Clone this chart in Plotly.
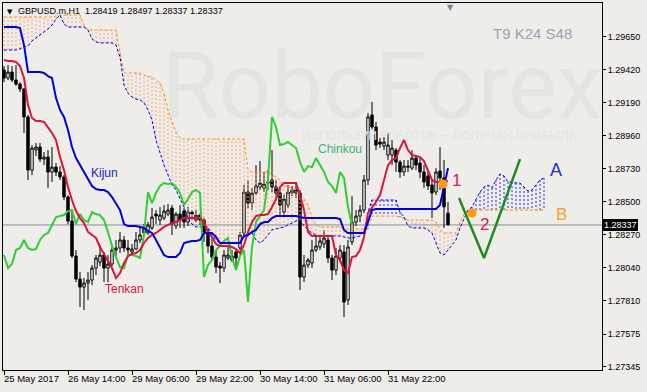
import plotly.graph_objects as go

# ---------------- data ----------------
tick_idx = [0, 16, 32, 48, 64, 80, 96]
tick_labels = ["25 May 2017", "26 May 14:00", "29 May 06:00", "29 May 22:00",
               "30 May 14:00", "31 May 06:00", "31 May 22:00"]
price_ticks = [1.27345, 1.27575, 1.27810, 1.28040, 1.28270, 1.28500,
               1.28730, 1.28960, 1.29190, 1.29420, 1.29650]

open_px = [
    1.29419, 1.29363, 1.29405, 1.29349, 1.29321, 1.29286, 1.29091, 1.28720, 1.28860, 1.28881,
    1.28797, 1.28811, 1.28706, 1.28741, 1.28706, 1.28672, 1.28532, 1.28364, 1.28120, 1.27959,
    1.27903, 1.27931, 1.27952, 1.28036, 1.28078, 1.28127, 1.28036, 1.28064, 1.28162, 1.28176,
    1.28232, 1.28176, 1.28148, 1.28169, 1.28232, 1.28309, 1.28281, 1.28316, 1.28413, 1.28371,
    1.28385, 1.28413, 1.28455, 1.28330, 1.28413, 1.28434, 1.28357, 1.28427, 1.28371, 1.28406,
    1.28371, 1.28288, 1.28190, 1.28113, 1.28050, 1.28036, 1.28106, 1.28092, 1.28148, 1.28176,
    1.28281, 1.28567, 1.28490, 1.28560, 1.28602, 1.28595, 1.28637, 1.28651, 1.28602, 1.28560,
    1.28427, 1.28476, 1.28560, 1.28581, 1.28560, 1.27973, 1.28057, 1.28071, 1.28162, 1.28183,
    1.28204, 1.28232, 1.28106, 1.28022, 1.28106, 1.28148, 1.27813, 1.28218, 1.28357, 1.28399,
    1.28441, 1.28651, 1.29105, 1.29021, 1.28916, 1.28888, 1.28825, 1.28825, 1.28860, 1.28776,
    1.28707, 1.28748, 1.28734, 1.28804, 1.28769, 1.28707, 1.28679, 1.28616, 1.28567, 1.28714,
    1.28665, 1.28419]
high_px = [
    1.29447, 1.29454, 1.29447, 1.29454, 1.29335, 1.29293, 1.29105, 1.28895, 1.28909, 1.28909,
    1.28846, 1.28860, 1.28881, 1.28769, 1.28748, 1.28686, 1.28546, 1.28441, 1.28162, 1.28008,
    1.27966, 1.28008, 1.28057, 1.28127, 1.28197, 1.28148, 1.28127, 1.28197, 1.28232, 1.28288,
    1.28260, 1.28232, 1.28204, 1.28288, 1.28323, 1.28344, 1.28358, 1.28455, 1.28441, 1.28462,
    1.28476, 1.28483, 1.28476, 1.28427, 1.28476, 1.28455, 1.28462, 1.28441, 1.28441, 1.28420,
    1.28385, 1.28316, 1.28246, 1.28162, 1.28078, 1.28162, 1.28197, 1.28162, 1.28162, 1.28288,
    1.28616, 1.28651, 1.28595, 1.28755, 1.28783, 1.28707, 1.28720, 1.28860, 1.28651, 1.28595,
    1.28546, 1.28616, 1.28609, 1.28637, 1.28581, 1.28127, 1.28106, 1.28232, 1.28253, 1.28267,
    1.28302, 1.28253, 1.28127, 1.28176, 1.28197, 1.28197, 1.28232, 1.28539, 1.28441, 1.28476,
    1.28686, 1.29119, 1.29196, 1.29056, 1.28944, 1.28951, 1.28979, 1.28930, 1.28874, 1.28790,
    1.28790, 1.28790, 1.28860, 1.28825, 1.28804, 1.28755, 1.28720, 1.28651, 1.28734, 1.28881,
    1.28790, 1.28497]
low_px = [
    1.29335, 1.29349, 1.29335, 1.29307, 1.29265, 1.28979, 1.28651, 1.28685, 1.28818, 1.28776,
    1.28755, 1.28595, 1.28637, 1.28679, 1.28651, 1.28511, 1.28343, 1.28106, 1.27938, 1.27764,
    1.27743, 1.27813, 1.27917, 1.27987, 1.28050, 1.27938, 1.27938, 1.28050, 1.28120, 1.28141,
    1.28148, 1.28134, 1.28127, 1.28162, 1.28211, 1.28260, 1.28267, 1.28302, 1.28344, 1.28337,
    1.28371, 1.28399, 1.28267, 1.28309, 1.28316, 1.28316, 1.28330, 1.28371, 1.28357, 1.28337,
    1.28218, 1.28141, 1.28092, 1.28001, 1.27931, 1.28008, 1.28092, 1.28078, 1.28036, 1.28162,
    1.28267, 1.28455, 1.28441, 1.28546, 1.28581, 1.28567, 1.28581, 1.28567, 1.28532, 1.28406,
    1.28406, 1.28455, 1.28539, 1.28525, 1.27882, 1.27938, 1.28036, 1.28036, 1.28148, 1.28162,
    1.28176, 1.28071, 1.27952, 1.27987, 1.28078, 1.27694, 1.27778, 1.28197, 1.28329, 1.28357,
    1.28420, 1.28616, 1.29000, 1.28860, 1.28874, 1.28860, 1.28790, 1.28755, 1.28707, 1.28665,
    1.28679, 1.28707, 1.28720, 1.28720, 1.28665, 1.28595, 1.28581, 1.28385, 1.28546, 1.28581,
    1.28316, 1.28337]
close_px = [
    1.29363, 1.29405, 1.29349, 1.29321, 1.29286, 1.29091, 1.28720, 1.28874, 1.28881, 1.28797,
    1.28811, 1.28706, 1.28741, 1.28706, 1.28672, 1.28532, 1.28364, 1.28120, 1.27959, 1.27903,
    1.27931, 1.27952, 1.28036, 1.28106, 1.28127, 1.28036, 1.28064, 1.28162, 1.28176, 1.28232,
    1.28176, 1.28162, 1.28169, 1.28232, 1.28267, 1.28281, 1.28337, 1.28392, 1.28399, 1.28406,
    1.28434, 1.28441, 1.28344, 1.28413, 1.28371, 1.28357, 1.28427, 1.28413, 1.28406, 1.28371,
    1.28288, 1.28190, 1.28113, 1.28043, 1.28036, 1.28127, 1.28127, 1.28120, 1.28106, 1.28267,
    1.28567, 1.28490, 1.28560, 1.28609, 1.28630, 1.28623, 1.28630, 1.28602, 1.28560, 1.28476,
    1.28518, 1.28567, 1.28581, 1.28560, 1.27973, 1.28057, 1.28092, 1.28162, 1.28190, 1.28225,
    1.28246, 1.28106, 1.28022, 1.28120, 1.28162, 1.27799, 1.28183, 1.28357, 1.28399, 1.28441,
    1.28651, 1.29091, 1.29021, 1.28895, 1.28902, 1.28916, 1.28895, 1.28874, 1.28776, 1.28707,
    1.28748, 1.28741, 1.28804, 1.28755, 1.28707, 1.28637, 1.28609, 1.28560, 1.28707, 1.28665,
    1.28462, 1.28337]

tenkan = [
    1.29489, 1.29482, 1.29482, 1.29475, 1.29447, 1.29363, 1.29175, 1.29084, 1.29063, 1.29063,
    1.29056, 1.29021, 1.28979, 1.28930, 1.28811, 1.28720, 1.28602, 1.28511, 1.28434, 1.28385,
    1.28350, 1.28288, 1.28267, 1.28246, 1.28183, 1.28134, 1.28092, 1.28036, 1.27966, 1.28001,
    1.28071, 1.28120, 1.28134, 1.28141, 1.28162, 1.28211, 1.28246, 1.28267, 1.28281, 1.28302,
    1.28323, 1.28337, 1.28350, 1.28357, 1.28371, 1.28385, 1.28385, 1.28385, 1.28385, 1.28385,
    1.28350, 1.28288, 1.28253, 1.28204, 1.28190, 1.28190, 1.28190, 1.28183, 1.28169, 1.28141,
    1.28197, 1.28288, 1.28357, 1.28399, 1.28406, 1.28406, 1.28413, 1.28462, 1.28518, 1.28602,
    1.28630, 1.28630, 1.28630, 1.28630, 1.28546, 1.28441, 1.28288, 1.28260, 1.28260, 1.28260,
    1.28260, 1.28260, 1.28260, 1.28127, 1.28092, 1.28022, 1.28001, 1.28113, 1.28120, 1.28162,
    1.28253, 1.28420, 1.28455, 1.28497, 1.28546, 1.28651, 1.28755, 1.28790, 1.28804, 1.28874,
    1.28930, 1.28860, 1.28825, 1.28818, 1.28811, 1.28783, 1.28720, 1.28651, 1.28637, 1.28637,
    1.28637, 1.28644]
kijun = [
    1.29719, 1.29719, 1.29719, 1.29719, 1.29712, 1.29594, 1.29405, 1.29405, 1.29405, 1.29405,
    1.29398, 1.29377, 1.29363, 1.29223, 1.29140, 1.29091, 1.29000, 1.28881, 1.28804, 1.28755,
    1.28700, 1.28651, 1.28609, 1.28588, 1.28581, 1.28581, 1.28567, 1.28532, 1.28490, 1.28441,
    1.28343, 1.28329, 1.28329, 1.28329, 1.28323, 1.28316, 1.28295, 1.28281, 1.28232, 1.28176,
    1.28127, 1.28113, 1.28113, 1.28113, 1.28141, 1.28211, 1.28218, 1.28225, 1.28225, 1.28232,
    1.28281, 1.28281, 1.28281, 1.28253, 1.28211, 1.28211, 1.28211, 1.28211, 1.28211, 1.28211,
    1.28260, 1.28267, 1.28288, 1.28302, 1.28343, 1.28357, 1.28357, 1.28385, 1.28399, 1.28399,
    1.28399, 1.28399, 1.28399, 1.28399, 1.28392, 1.28385, 1.28385, 1.28385, 1.28385, 1.28385,
    1.28385, 1.28385, 1.28385, 1.28385, 1.28378, 1.28302, 1.28281, 1.28281, 1.28281, 1.28281,
    1.28281, 1.28357, 1.28441, 1.28448, 1.28448, 1.28448, 1.28448, 1.28448, 1.28448, 1.28448,
    1.28448, 1.28448, 1.28448, 1.28448, 1.28448, 1.28448, 1.28448, 1.28448, 1.28448, 1.28476,
    1.28595, 1.28734]
span_a = [
    1.29559, 1.29559, 1.29559, 1.29559, 1.29566, 1.29580, 1.29587, 1.29622, 1.29643, 1.29664,
    1.29684, 1.29705, 1.29733, 1.29775, 1.29803, 1.29740, 1.29719, 1.29719, 1.29719, 1.29719,
    1.29719, 1.29698, 1.29636, 1.29615, 1.29608, 1.29608, 1.29608, 1.29608, 1.29594, 1.29510,
    1.29314, 1.29258, 1.29230, 1.29216, 1.29210, 1.29189, 1.29140, 1.29070, 1.28930, 1.28839,
    1.28755, 1.28686, 1.28616, 1.28581, 1.28525, 1.28462, 1.28385, 1.28343, 1.28323, 1.28323,
    1.28330, 1.28323, 1.28267, 1.28232, 1.28211, 1.28211, 1.28211, 1.28211, 1.28211, 1.28211,
    1.28253, 1.28274, 1.28281, 1.28232, 1.28211, 1.28232, 1.28267, 1.28302, 1.28309, 1.28316,
    1.28323, 1.28337, 1.28350, 1.28364, 1.28371, 1.28330, 1.28302, 1.28281, 1.28267, 1.28260,
    1.28260, 1.28260, 1.28260, 1.28260, 1.28260, 1.28253, 1.28246, 1.28246, 1.28253, 1.28260,
    1.28288, 1.28427, 1.28511, 1.28511, 1.28511, 1.28511, 1.28511, 1.28511, 1.28511, 1.28427,
    1.28392, 1.28330, 1.28316, 1.28316, 1.28316, 1.28316, 1.28302, 1.28281, 1.28211, 1.28141,
    1.28127, 1.28162, 1.28197, 1.28232, 1.28316, 1.28385, 1.28441, 1.28462, 1.28511, 1.28567,
    1.28602, 1.28616, 1.28595, 1.28651, 1.28693, 1.28679, 1.28637, 1.28637, 1.28630, 1.28630,
    1.28602, 1.28574, 1.28581, 1.28616, 1.28651, 1.28665]
span_b = [
    1.29789, 1.29789, 1.29789, 1.29789, 1.29789, 1.29789, 1.29789, 1.29789, 1.29789, 1.29789,
    1.29789, 1.29789, 1.29789, 1.29796, 1.29803, 1.29803, 1.29803, 1.29803, 1.29803, 1.29803,
    1.29733, 1.29698, 1.29698, 1.29698, 1.29698, 1.29698, 1.29698, 1.29698, 1.29698, 1.29545,
    1.29398, 1.29398, 1.29398, 1.29398, 1.29398, 1.29384, 1.29377, 1.29370, 1.29349, 1.29328,
    1.29258, 1.29140, 1.29056, 1.28986, 1.28944, 1.28937, 1.28937, 1.28937, 1.28937, 1.28937,
    1.28937, 1.28937, 1.28937, 1.28937, 1.28937, 1.28937, 1.28937, 1.28937, 1.28937, 1.28937,
    1.28937, 1.28720, 1.28707, 1.28707, 1.28707, 1.28707, 1.28707, 1.28686, 1.28672, 1.28651,
    1.28609, 1.28602, 1.28595, 1.28581, 1.28532, 1.28518, 1.28476, 1.28392, 1.28337, 1.28323,
    1.28323, 1.28323, 1.28323, 1.28323, 1.28323, 1.28309, 1.28309, 1.28309, 1.28309, 1.28309,
    1.28309, 1.28309, 1.28399, 1.28399, 1.28399, 1.28399, 1.28399, 1.28399, 1.28399, 1.28392,
    1.28385, 1.28371, 1.28371, 1.28371, 1.28371, 1.28371, 1.28371, 1.28371, 1.28357, 1.28302,
    1.28281, 1.28281, 1.28281, 1.28281, 1.28357, 1.28413, 1.28441, 1.28441, 1.28441, 1.28441,
    1.28441, 1.28441, 1.28441, 1.28441, 1.28441, 1.28441, 1.28441, 1.28441, 1.28441, 1.28441,
    1.28441, 1.28441, 1.28441, 1.28441, 1.28441, 1.28441]

chinkou_shift = 24
last_price = 1.28337
forecast_x = [113.75, 120, 129]
forecast_y = [1.28525, 1.28106, 1.28797]
dots_x = [109.75, 117]
dots_y = [1.28623, 1.28420]

# ---------------- figure ----------------
BG = "#EEEDEA"
FONT = "Liberation Sans, Arial, sans-serif"
WM = "#E4E4E2"
fig = go.Figure()

# watermark (drawn first so it stays beneath everything)
fig.add_trace(go.Scatter(
    x=[39.5], y=[1.29244], mode="text", text=["RoboForex"],
    textposition="middle right",
    textfont=dict(family="Roboto, sans-serif", size=92, color=WM),
    hoverinfo="skip", showlegend=False, cliponaxis=True))
fig.add_trace(go.Scatter(
    x=[74.5], y=[1.28952], mode="text",
    text=["ИСПОЛЬЗУЙ РОБОТОВ — ПОЛУЧАЙ ПРИБЫЛЬ"],
    textposition="middle right",
    textfont=dict(family="Roboto, sans-serif", size=12.5, color=WM),
    hoverinfo="skip", showlegend=False, cliponaxis=True))

# cloud hatching
ox, oy, bx, by = [], [], [], []
for i, (a, b) in enumerate(zip(span_a, span_b)):
    if b >= a:
        ox += [i, i, None]; oy += [a, b, None]
    else:
        bx += [i, i, None]; by += [a, b, None]
fig.add_trace(go.Scatter(x=ox, y=oy, mode="lines",
                         line=dict(color="#F8A06E", width=1, dash="2px,2px"),
                         hoverinfo="skip", showlegend=False))
fig.add_trace(go.Scatter(x=bx, y=by, mode="lines",
                         line=dict(color="#2233EE", width=1, dash="2px,2px"),
                         hoverinfo="skip", showlegend=False))
xs = list(range(len(span_a)))
fig.add_trace(go.Scatter(x=xs, y=span_b, mode="lines",
                         line=dict(color="#FF9010", width=1, dash="3px,2px"),
                         hoverinfo="skip", showlegend=False))
fig.add_trace(go.Scatter(x=xs, y=span_a, mode="lines",
                         line=dict(color="#0000EE", width=1, dash="3px,2px"),
                         hoverinfo="skip", showlegend=False))

# candles
bars = list(range(len(close_px)))
fig.add_trace(go.Candlestick(
    x=bars, open=open_px, high=high_px, low=low_px, close=close_px,
    increasing=dict(line=dict(color="black", width=1), fillcolor="white"),
    decreasing=dict(line=dict(color="black", width=1), fillcolor="black"),
    whiskerwidth=0, hoverinfo="skip", showlegend=False))

# Ichimoku lines
ch_x = [i - chinkou_shift for i in bars[chinkou_shift:]]
fig.add_trace(go.Scatter(x=ch_x, y=close_px[chinkou_shift:], mode="lines",
                         line=dict(color="#32CD32", width=2), hoverinfo="skip", showlegend=False))
fig.add_trace(go.Scatter(x=bars, y=tenkan, mode="lines",
                         line=dict(color="#DC143C", width=2), hoverinfo="skip", showlegend=False))
fig.add_trace(go.Scatter(x=bars, y=kijun, mode="lines",
                         line=dict(color="#0000DD", width=2), hoverinfo="skip", showlegend=False))

# forecast drawing
fig.add_trace(go.Scatter(x=forecast_x, y=forecast_y, mode="lines",
                         line=dict(color="#1E8C1E", width=2.5), hoverinfo="skip", showlegend=False))
fig.add_trace(go.Scatter(x=dots_x, y=dots_y, mode="markers",
                         marker=dict(color="#FF9A10", size=9), hoverinfo="skip", showlegend=False))

# current price line
fig.add_shape(type="line", xref="paper", x0=0, x1=1, yref="y", y0=last_price, y1=last_price,
              line=dict(color="#8090A0", width=1), layer="below")

ann = []
for k, lbl in zip(tick_idx, tick_labels):
    ann.append(dict(x=k, xref="x", y=0, yref="paper", text=lbl, showarrow=False,
                    xanchor="left", yanchor="top", xshift=-2, yshift=-1,
                    font=dict(family=FONT, size=9.5, color="black")))
ann.append(dict(x=1, xref="paper", y=last_price, yref="y", text=f"{last_price:.5f}",
                showarrow=False, xanchor="left", yanchor="middle", xshift=1,
                bgcolor="black", borderpad=1, borderwidth=0,
                font=dict(family=FONT, size=9, color="white")))
ann.append(dict(x=0, xref="paper", y=1, yref="paper", text="▼", showarrow=False,
                xanchor="left", yanchor="top", xshift=2, yshift=-3,
                font=dict(family="DejaVu Sans", size=7, color="black")))
ann.append(dict(x=0, xref="paper", y=1, yref="paper",
                text="GBPUSD.m,H1  1.28419 1.28497 1.28337 1.28337", showarrow=False,
                xanchor="left", yanchor="top", xshift=13, yshift=-1,
                font=dict(family=FONT, size=9, color="black")))
ann.append(dict(x=132, xref="x", y=1.29677, yref="y", text="T9 K24 S48", showarrow=False,
                font=dict(family=FONT, size=15, color="#9AA4AE")))
ann.append(dict(x=111.5, xref="x", y=1, yref="paper", text="▼", showarrow=False,
                yanchor="top", yshift=2, font=dict(family="DejaVu Sans", size=8, color="#7A8794")))
labels = [("Kijun", 25, 1.28700, "#2222CC", 12),
          ("Tenkan", 30, 1.27889, "#DC143C", 12),
          ("Chinkou", 84, 1.28867, "#3CB371", 12),
          ("1", 113, 1.28644, "#DC2050", 17),
          ("2", 120, 1.28343, "#DC2050", 17),
          ("A", 138, 1.28720, "#2233CC", 18),
          ("B", 139.25, 1.28413, "#F0A030", 17)]
for t, x, y, c, s in labels:
    ann.append(dict(x=x, xref="x", y=y, yref="y", text=t, showarrow=False,
                    font=dict(family=FONT, size=s, color=c)))

fig.update_layout(
    width=647, height=392,
    margin=dict(l=3, r=45, t=3, b=22, pad=0),
    paper_bgcolor=BG, plot_bgcolor=BG,
    showlegend=False, hovermode=False, dragmode=False,
    boxgap=0.4, boxgroupgap=0,
    annotations=ann,
    xaxis=dict(range=[-0.25, 149.5], showgrid=False, zeroline=False,
               showline=True, mirror=True, linecolor="black", linewidth=1,
               ticks="outside", ticklen=4, tickcolor="black", tickvals=tick_idx,
               showticklabels=False, rangeslider=dict(visible=False), fixedrange=True),
    yaxis=dict(range=[1.27324, 1.29887], side="right", showgrid=False, zeroline=False,
               showline=True, mirror=True, linecolor="black", linewidth=1,
               ticks="outside", ticklen=3, tickcolor="black",
               tickvals=price_ticks, ticktext=[f"{v:.5f}" for v in price_ticks],
               tickfont=dict(family=FONT, size=9, color="black"), fixedrange=True),
)

fig.write_html("out.html", config={"displayModeBar": False, "staticPlot": True})
